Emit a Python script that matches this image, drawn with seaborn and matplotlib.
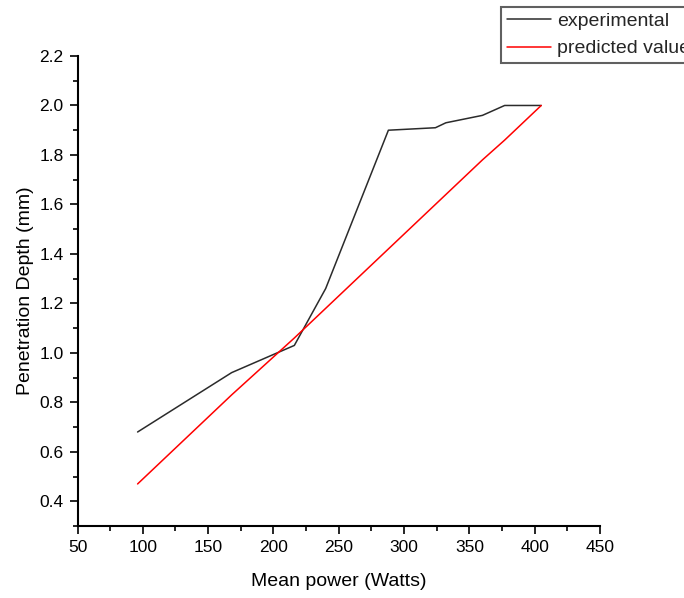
import numpy as np
import pandas as pd
import matplotlib
matplotlib.use("Agg")
import matplotlib.pyplot as plt
from matplotlib.ticker import MultipleLocator
import seaborn as sns

# Data
power_exp = [96, 168, 216, 240, 288, 324, 332, 360, 377, 405]
depth_exp = [0.68, 0.92, 1.03, 1.26, 1.90, 1.91, 1.93, 1.96, 2.00, 2.00]
power_pred = [96, 168, 216, 240, 288, 324, 332, 360, 377, 405]
depth_pred = [0.47, 0.83, 1.06, 1.18, 1.42, 1.60, 1.64, 1.78, 1.86, 2.00]
series_names = ["experimental", "predicted value"]
series_colors = ["#2b2b2b", "#ff0000"]
x_ticks = [50, 100, 150, 200, 250, 300, 350, 400, 450]
y_ticks = [0.4, 0.6, 0.8, 1.0, 1.2, 1.4, 1.6, 1.8, 2.0, 2.2]

df = pd.concat([
    pd.DataFrame({"power": power_exp, "depth": depth_exp, "series": series_names[0]}),
    pd.DataFrame({"power": power_pred, "depth": depth_pred, "series": series_names[1]}),
])

sns.set_theme(style="white")
plt.rcParams["font.family"] = ["Liberation Sans", "DejaVu Sans"]

fig = plt.figure(figsize=(6.84, 5.98), dpi=100)
ax = fig.add_axes([77.5 / 684, 1 - 526 / 598, (600 - 77.5) / 684, (526 - 56) / 598])

sns.lineplot(data=df, x="power", y="depth", hue="series",
             palette=dict(zip(series_names, series_colors)),
             linewidth=1.1, sort=False, ax=ax, legend=True)

ax.set_xlim(50, 450)
ax.set_ylim(0.3, 2.2)
ax.set_xticks(x_ticks)
ax.set_yticks(y_ticks)
ax.set_xticklabels([str(v) for v in x_ticks])
ax.set_yticklabels([f"{v:.1f}" for v in y_ticks])
ax.xaxis.set_minor_locator(MultipleLocator(25))
ax.yaxis.set_minor_locator(MultipleLocator(0.1))
ax.tick_params(which="major", direction="out", length=6, width=1.2, color="black",
               labelsize=12.5, pad=4, labelcolor="black", bottom=True, left=True)
ax.tick_params(which="minor", direction="out", length=3.5, width=1.2, color="black",
               bottom=True, left=True)

for s in ["top", "right"]:
    ax.spines[s].set_visible(False)
for s in ["left", "bottom"]:
    ax.spines[s].set_color("black")
    ax.spines[s].set_linewidth(1.5)

ax.set_xlabel("Mean power (Watts)", fontsize=14, color="black", labelpad=13)
ax.set_ylabel("Penetration Depth (mm)", fontsize=14, color="black", labelpad=4)

leg = ax.legend(loc="upper left", bbox_to_anchor=(500.7 / 684, 1 - 6.7 / 598),
                bbox_transform=fig.transFigure, borderaxespad=0,
                fontsize=14, handlelength=2.3, handletextpad=0.3,
                borderpad=0.3, labelspacing=0.5, frameon=True,
                fancybox=False, framealpha=1, title=None)
leg.get_frame().set_edgecolor("#606060")
leg.get_frame().set_linewidth(1.5)
for line in leg.get_lines():
    line.set_linewidth(1.1)

fig.savefig("out.png", dpi=100)
